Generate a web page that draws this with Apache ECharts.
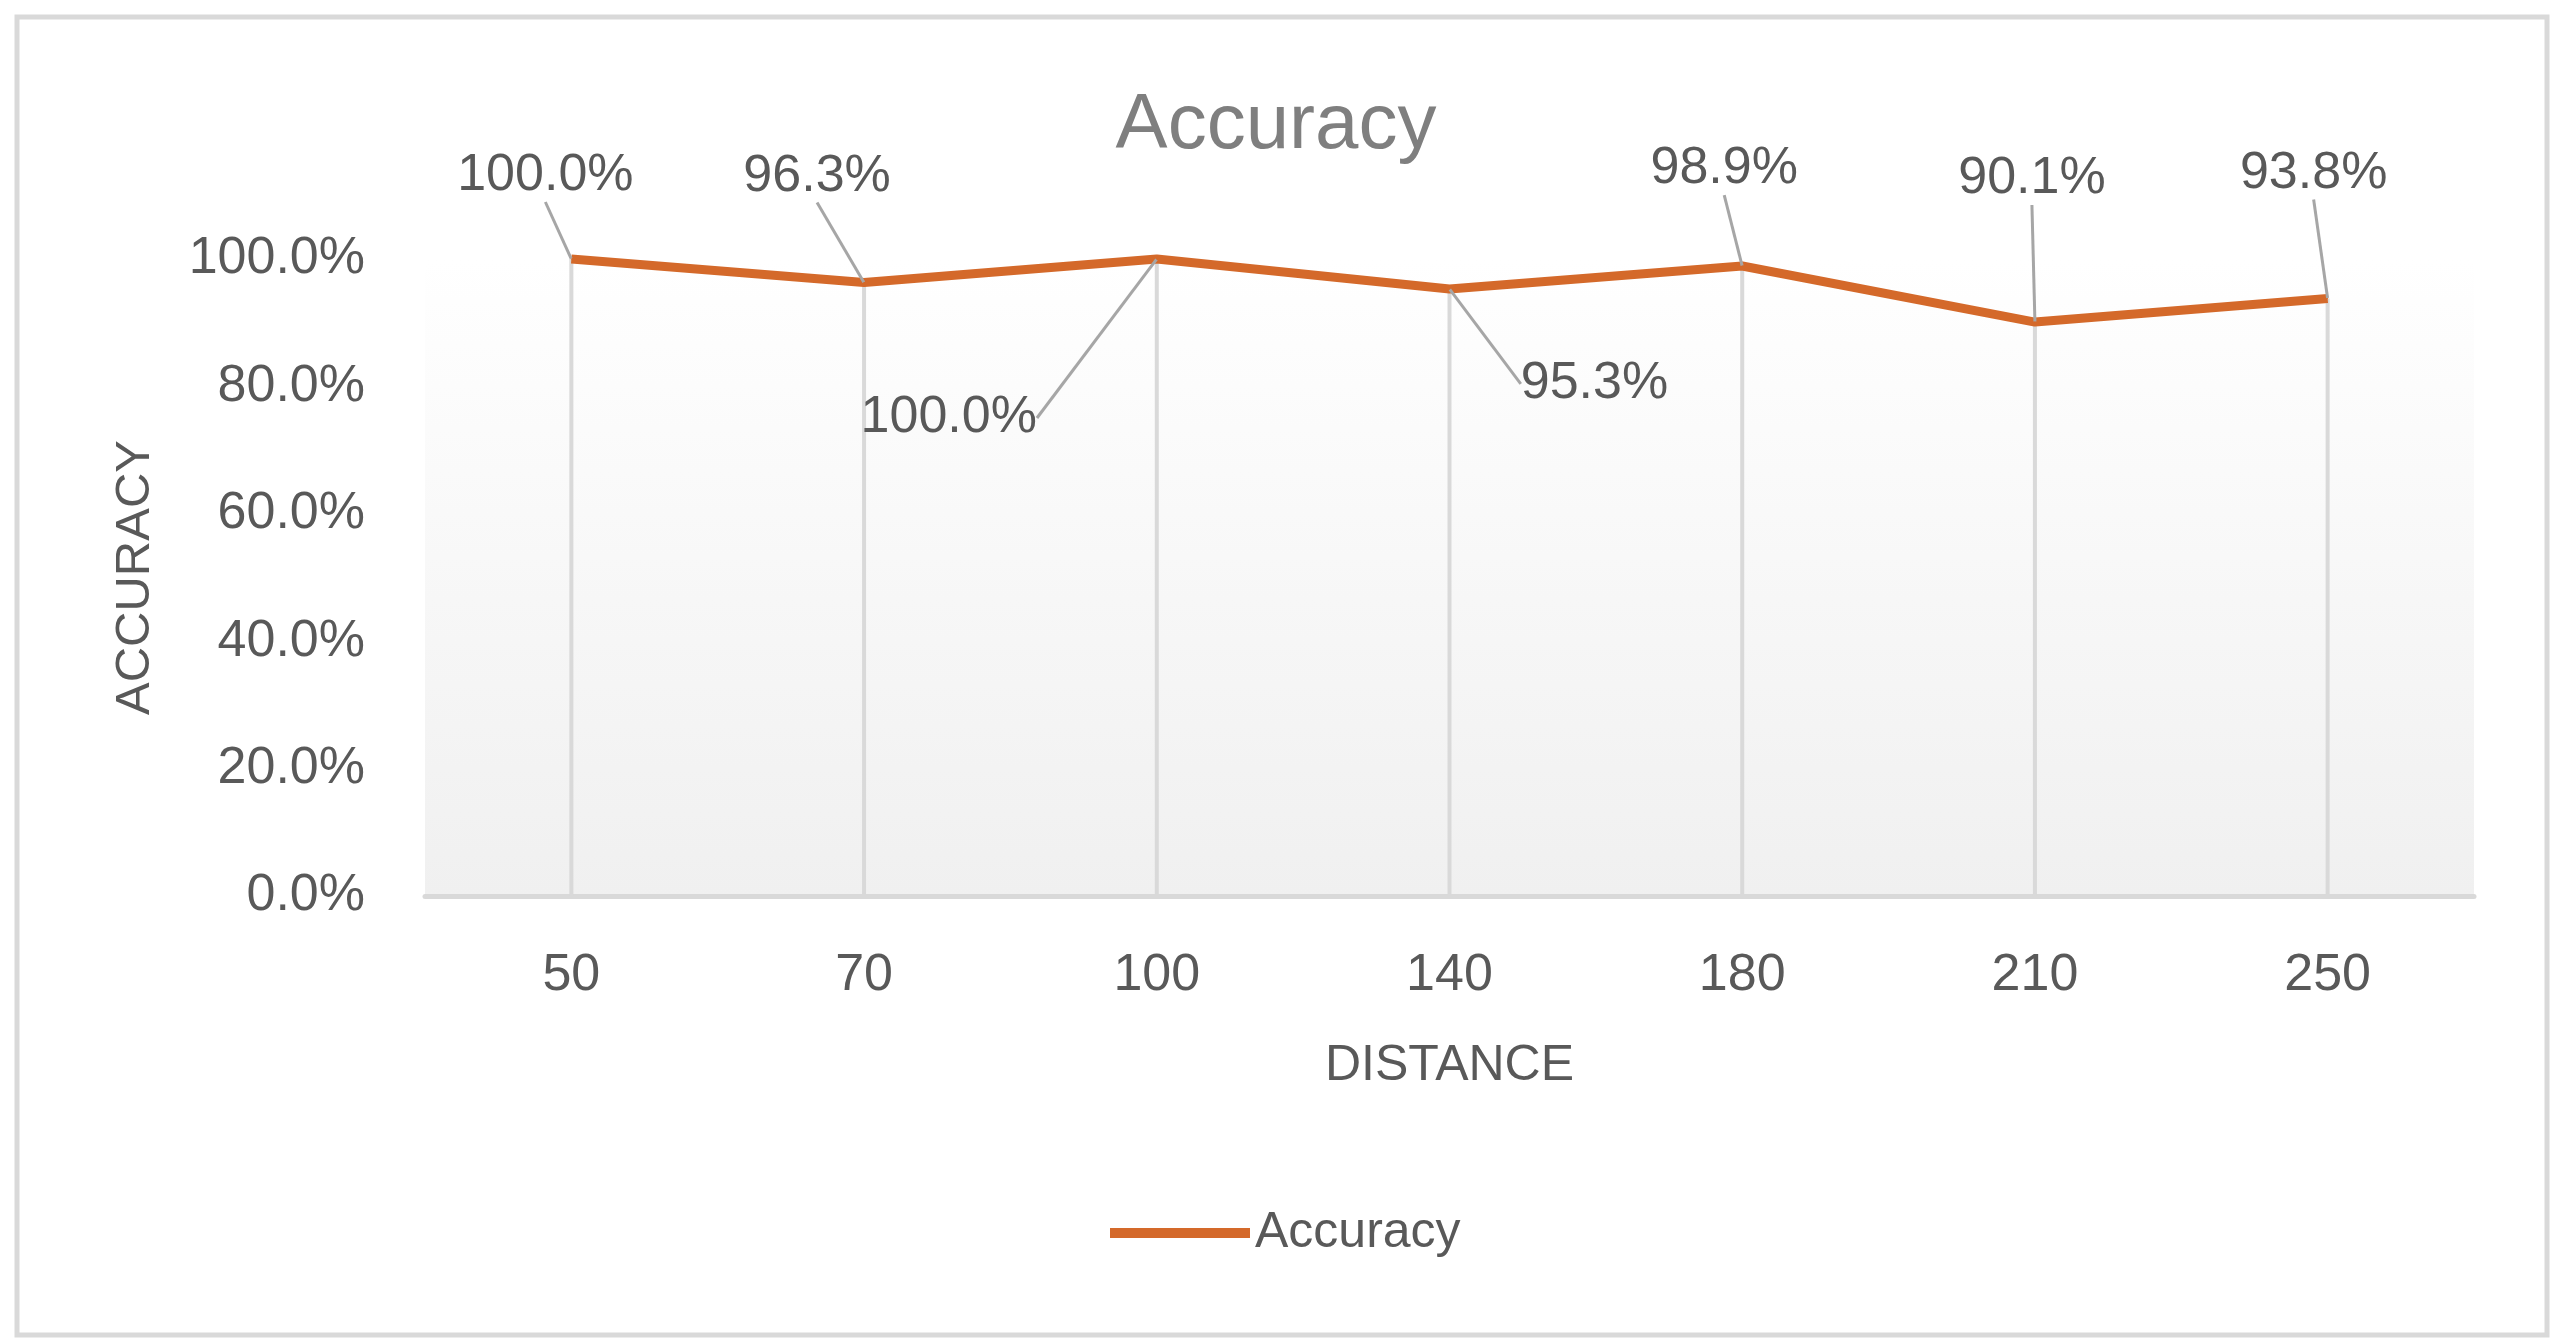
<!DOCTYPE html>
<html>
<head>
<meta charset="utf-8">
<script src="https://cdn.jsdelivr.net/npm/echarts@6/dist/echarts.min.js"></script>
<style>
  html, body { margin: 0; padding: 0; background: #ffffff; }
  #chart { width: 2564px; height: 1342px; }
</style>
</head>
<body>
<div id="chart"></div>
<script>
// ========================================
// DATA
// ========================================
var distances = ['50', '70', '100', '140', '180', '210', '250'];
var accuracy = [100.0, 96.3, 100.0, 95.3, 98.9, 90.1, 93.8];
var yTicks = { min: 0, max: 100, step: 20 };

// where each data label sits relative to its point (Excel moved them by hand)
var labelShift = [[-26, -83], [-47, -106], [-208, 159], [145, 95], [-18, -97], [-3, -143], [-14, -125]];

var FONT = "'Liberation Sans', Arial, sans-serif";
var TEXT = '#595959';
var ORANGE = '#d4692a';

function pct(v) {
  return v.toFixed(1) + '%';
}

var chart = echarts.init(document.getElementById('chart'), null, { renderer: 'canvas' });

chart.setOption({
  animation: false,
  backgroundColor: '#ffffff',
  textStyle: { fontFamily: FONT },
  title: {
    text: 'Accuracy',
    left: 1271,
    textAlign: 'center',
    top: 82,
    textStyle: { fontFamily: FONT, fontSize: 78, fontWeight: 'normal', color: '#7f7f7f' }
  },
  legend: {
    data: ['Accuracy'],
    left: 1110,
    top: 1208,
    padding: 0,
    icon: 'rect',
    itemWidth: 140,
    itemHeight: 10,
    textStyle: { fontFamily: FONT, fontSize: 50, color: TEXT }
  },
  grid: {
    left: 425,
    right: 90,
    top: 259,
    bottom: 446,
    show: true,
    borderWidth: 0,
    backgroundColor: new echarts.graphic.LinearGradient(0, 0, 0, 1, [
      { offset: 0, color: '#ffffff' },
      { offset: 1, color: '#f0f0f0' }
    ])
  },
  xAxis: {
    type: 'category',
    data: distances,
    boundaryGap: true,
    name: 'DISTANCE',
    nameLocation: 'middle',
    nameGap: 145,
    nameTextStyle: { fontFamily: FONT, fontSize: 50, color: TEXT },
    axisLine: { lineStyle: { color: '#d9d9d9', width: 5 } },
    axisTick: { show: false },
    splitLine: { show: false },
    axisLabel: { fontFamily: FONT, fontSize: 52, color: TEXT, margin: 54 }
  },
  yAxis: {
    type: 'value',
    min: yTicks.min,
    max: yTicks.max,
    interval: yTicks.step,
    name: 'ACCURACY',
    nameLocation: 'middle',
    nameGap: 265,
    nameTextStyle: { fontFamily: FONT, fontSize: 49, color: TEXT },
    axisLine: { show: false },
    axisTick: { show: false },
    splitLine: { show: false },
    axisLabel: {
      fontFamily: FONT, fontSize: 52, color: TEXT, margin: 60,
      formatter: function (v) { return pct(v); }
    }
  },
  series: [
    {
      // drop lines from each point down to the axis
      name: 'drop',
      type: 'bar',
      data: accuracy,
      barWidth: 4,
      itemStyle: { color: '#d9d9d9' },
      silent: true,
      z: 1
    },
    {
      name: 'Accuracy',
      type: 'line',
      data: accuracy,
      clip: false,
      symbol: 'circle',
      symbolSize: 1,
      showSymbol: true,
      itemStyle: { color: ORANGE },
      lineStyle: { color: ORANGE, width: 9 },
      z: 3,
      label: {
        show: true,
        position: 'inside',
        padding: 15,
        fontFamily: FONT,
        fontSize: 52,
        color: TEXT,
        formatter: function (p) { return pct(p.value); }
      },
      labelLine: {
        show: true,
        lineStyle: { color: '#a6a6a6', width: 3 }
      },
      labelLayout: function (params) {
        var s = labelShift[params.dataIndex];
        return { dx: s[0], dy: s[1] };
      }
    }
  ],
  graphic: [
    {
      type: 'rect',
      silent: true,
      shape: { x: 17, y: 17, width: 2530, height: 1318 },
      style: { fill: 'none', stroke: '#d9d9d9', lineWidth: 5 }
    }
  ]
});
</script>
</body>
</html>
